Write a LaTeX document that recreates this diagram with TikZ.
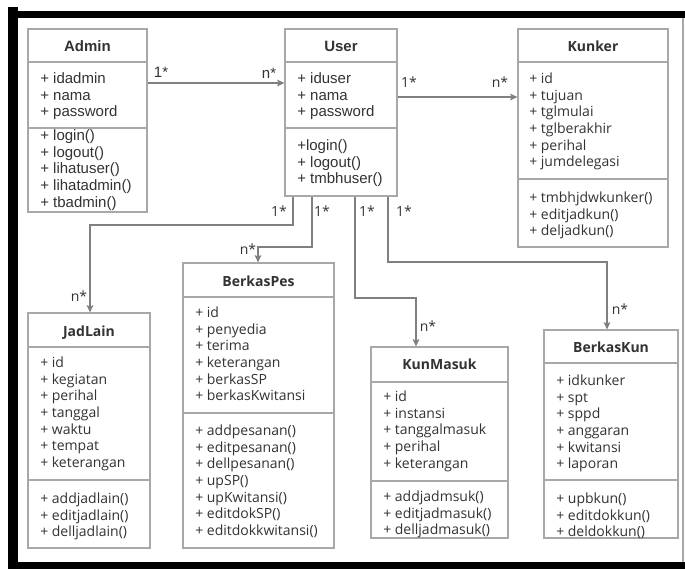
\documentclass[tikz,border=0pt]{standalone}
\usepackage{fontspec}
\setmainfont{Liberation Sans}
\newfontfamily\tah{Open Sans}
\usetikzlibrary{arrows.meta,fit}
\definecolor{textc}{HTML}{333333}
\definecolor{boxc}{HTML}{A8A8A8}
\definecolor{linec}{HTML}{808080}
\newcommand{\mlines}[5]{%
  \foreach \t [count=\i from 0] in {#5}{\node[#4] (#1\i) at (#2,#3+\i*16.67) {\t};}}
\begin{document}
\begin{tikzpicture}[x=0.75pt,y=-0.75pt,
  classbox/.style={draw=boxc,line width=0.8pt,inner sep=0pt,fill=white},
  divline/.style={draw=boxc,line width=0.8pt},
  fa/.style={font=\fontsize{11.25pt}{13pt}\selectfont},
  fb/.style={font=\tah\fontsize{10.5pt}{12pt}\selectfont},
  member/.style={anchor=west,inner sep=0pt,text=textc,text height=0.72em,text depth=0.2em},
  title/.style={anchor=center,inner sep=0pt,text=textc,text height=0.72em,text depth=0pt},
  mult/.style={anchor=center,inner sep=0pt,text=textc,text height=0.72em,text depth=0pt},
  conn/.style={draw=linec,line width=0.9pt,-{Stealth[length=5.5pt,width=5pt,inset=1.2pt]}},
]
\useasboundingbox (0,0) rectangle (685,569);
% frame
\fill[black] (8,7) rectangle (18,569);
\fill[black] (8,11) rectangle (685,18);
\fill[black] (8,562) rectangle (685,569);
\draw[boxc,line width=0.8pt] (683,18) -- (683,562);

% Admin
\node[classbox,fit={(28,29) (147,212)}] (admin) {};
\draw[divline] (admin.west |- 0,62) -- (admin.east |- 0,62);
\draw[divline] (admin.west |- 0,128) -- (admin.east |- 0,128);
\node[title,fa,font=\fontsize{11.25pt}{13pt}\selectfont\bfseries] (admint) at (admin.north |- 0,47) {Admin};
\mlines{admina}{40}{80}{member,fa}{+ idadmin,+ nama,+ password}
\mlines{adminm}{40}{137}{member,fa}{+ login(),+ logout(),+ lihatuser(),+ lihatadmin(),+ tbadmin()}

% User
\node[classbox,fit={(285,29) (397,196)}] (user) {};
\draw[divline] (user.west |- 0,62) -- (user.east |- 0,62);
\draw[divline] (user.west |- 0,128) -- (user.east |- 0,128);
\node[title,font=\fontsize{11.25pt}{13pt}\selectfont\bfseries] (usert) at (user.north |- 0,47) {User};
\mlines{usera}{297}{80}{member,fa}{+ iduser,+ nama,+ password}
\mlines{userm}{297}{147}{member,fa}{+login(),+ logout(),+ tmbhuser()}

% Kunker
\node[classbox,fit={(518,29) (668,247)}] (kunker) {};
\draw[divline] (kunker.west |- 0,62) -- (kunker.east |- 0,62);
\draw[divline] (kunker.west |- 0,179) -- (kunker.east |- 0,179);
\node[title,font=\tah\fontsize{10.5pt}{12pt}\selectfont\bfseries] (kunkert) at (kunker.north |- 0,47) {Kunker};
\mlines{kunkera}{529}{80}{member,fb}{+ id,+ tujuan,+ tglmulai,+ tglberakhir,+ perihal,+ jumdelegasi}
\mlines{kunkerm}{529}{199}{member,fb}{+ tmbhjdwkunker(),+ editjadkun(),+ deljadkun()}

% JadLain
\node[classbox,fit={(28,313) (150,548)}] (jadlain) {};
\draw[divline] (jadlain.west |- 0,347) -- (jadlain.east |- 0,347);
\draw[divline] (jadlain.west |- 0,480) -- (jadlain.east |- 0,480);
\node[title,font=\tah\fontsize{10.5pt}{12pt}\selectfont\bfseries] (jadlaint) at (jadlain.north |- 0,332) {JadLain};
\mlines{jadlaina}{40}{364}{member,fb}{+ id,+ kegiatan,+ perihal,+ tanggal,+ waktu,+ tempat,+ keterangan}
\mlines{jadlainm}{40}{500}{member,fb}{+ addjadlain(),+ editjadlain(),+ delljadlain()}

% BerkasPes
\node[classbox,fit={(183,263) (334,548)}] (berkaspes) {};
\draw[divline] (berkaspes.west |- 0,297) -- (berkaspes.east |- 0,297);
\draw[divline] (berkaspes.west |- 0,413) -- (berkaspes.east |- 0,413);
\node[title,font=\tah\fontsize{10.5pt}{12pt}\selectfont\bfseries] (berkaspest) at (berkaspes.north |- 0,282) {BerkasPes};
\mlines{berkaspesa}{195}{314}{member,fb}{+ id,+ penyedia,+ terima,+ keterangan,+ berkasSP,+ berkasKwitansi}
\mlines{berkaspesm}{195}{432}{member,fb}{+ addpesanan(),+ editpesanan(),+ dellpesanan(),+ upSP(),+ upKwitansi(),+ editdokSP(),+ editdokkwitansi()}

% KunMasuk
\node[classbox,fit={(371,347) (508,538)}] (kunmasuk) {};
\draw[divline] (kunmasuk.west |- 0,382) -- (kunmasuk.east |- 0,382);
\draw[divline] (kunmasuk.west |- 0,481) -- (kunmasuk.east |- 0,481);
\node[title,font=\tah\fontsize{10.5pt}{12pt}\selectfont\bfseries] (kunmasukt) at (kunmasuk.north |- 0,365) {KunMasuk};
\mlines{kunmasuka}{383}{398}{member,fb}{+ id,+ instansi,+ tanggalmasuk,+ perihal,+ keterangan}
\mlines{kunmasukm}{383}{498}{member,fb}{+ addjadmsuk(),+ editjadmasuk(),+ delljadmasuk()}

% BerkasKun
\node[classbox,fit={(544,330) (678,538)}] (berkaskun) {};
\draw[divline] (berkaskun.west |- 0,363) -- (berkaskun.east |- 0,363);
\draw[divline] (berkaskun.west |- 0,480) -- (berkaskun.east |- 0,480);
\node[title,font=\tah\fontsize{10.5pt}{12pt}\selectfont\bfseries] (berkaskunt) at (berkaskun.north |- 0,348) {BerkasKun};
\mlines{berkaskuna}{556}{382}{member,fb}{+ idkunker,+ spt,+ sppd,+ anggaran,+ kwitansi,+ laporan}
\mlines{berkaskunm}{556}{500}{member,fb}{+ upbkun(),+ editdokkun(),+ deldokkun()}

% connectors
\draw[conn] (admin.east |- 0,83) -- (user.west |- 0,83);
\draw[conn] (user.east |- 0,97) -- (kunker.west |- 0,97);
\draw[conn] (user.south -| 293,0) |- (90,225) -- (jadlain.north -| 90,0);
\draw[conn] (user.south -| 312,0) |- (258,247) -- (berkaspes.north -| 258,0);
\draw[conn] (user.south -| 355,0) |- (416,298) -- (kunmasuk.north -| 416,0);
\draw[conn] (user.south -| 388,0) |- (607,262) -- (berkaskun.north -| 607,0);

% multiplicities
\node[mult,fa] (m1) at (161,73) {1*};
\node[mult,fa] (m2) at (269,74) {n*};
\node[mult,fb] (m3) at (409,83) {1*};
\node[mult,fb] (m4) at (500,83) {n*};
\node[mult,fb] (m5) at (279,212) {1*};
\node[mult,fb] (m6) at (322,212) {1*};
\node[mult,fb] (m7) at (367,212) {1*};
\node[mult,fb] (m8) at (404,212) {1*};
\node[mult,fb] (m9) at (79,297) {n*};
\node[mult,fb] (m10) at (248,250) {n*};
\node[mult,fb] (m11) at (428,327) {n*};
\node[mult,fb] (m12) at (620,310) {n*};
\end{tikzpicture}
\end{document}
